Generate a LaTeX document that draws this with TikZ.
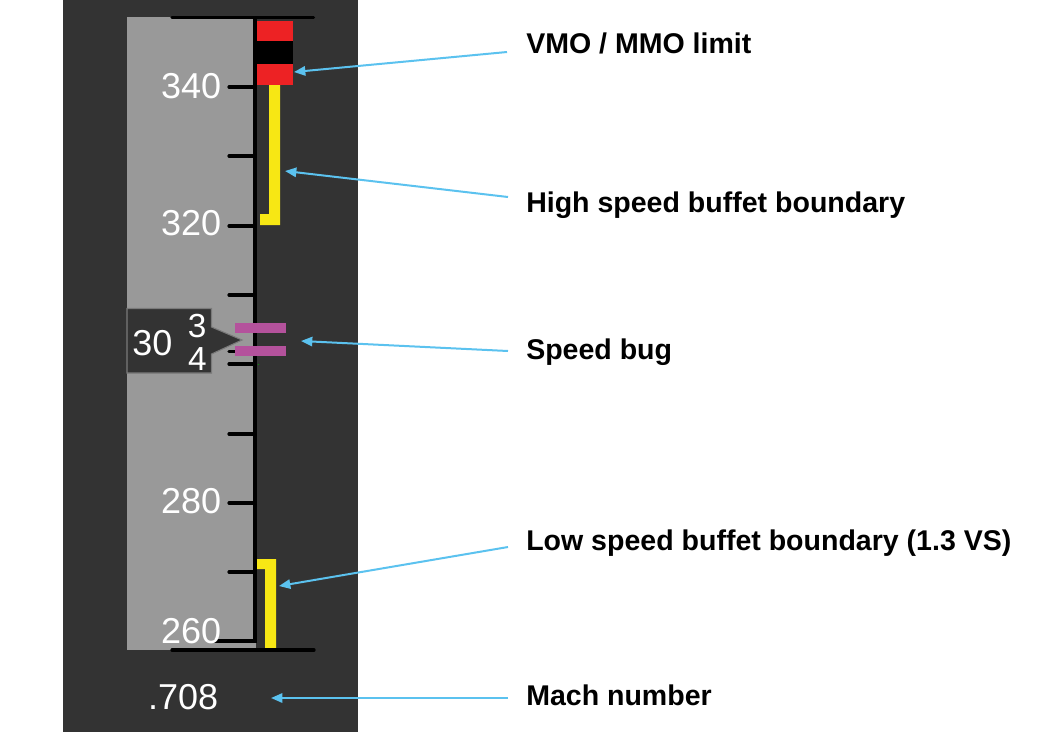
\documentclass[tikz,border=0pt]{standalone}
\usepackage{fontspec}
\setmainfont{Liberation Sans}
\usetikzlibrary{arrows.meta}
\definecolor{panel}{HTML}{333333}
\definecolor{tapegray}{HTML}{999999}
\definecolor{vred}{HTML}{ED2224}
\definecolor{vyel}{HTML}{F7E714}
\definecolor{bugmag}{HTML}{B4529C}
\definecolor{lblue}{HTML}{5BC2EF}
\definecolor{boxedge}{HTML}{7A7A7A}
\begin{document}
\begin{tikzpicture}[x=0.75pt,y=-0.75pt,
  tapetick/.style={line width=2.4pt,line cap=round},
  tapenum/.style={text=white,inner sep=0pt,anchor=base east,font=\fontsize{27}{27}\selectfont},
  drumdigit/.style={text=white,inner sep=0pt,anchor=base,font=\fontsize{25}{25}\selectfont},
  lbltext/.style={inner sep=0pt,anchor=base west,font=\fontsize{21.4}{24}\selectfont\bfseries},
  lblarrow/.style={draw=lblue,line width=1.5pt,-{Triangle[length=8.5pt,width=7pt]}}]
\useasboundingbox (0,0) rectangle (1037,754);
% panel and tape
\fill[panel] (63,0) rectangle (358,732);
\fill[tapegray] (127,17) rectangle (256,650);
% VMO / MMO barber
\fill[vred] (257,21) rectangle (293,41);
\fill[black] (257,41) rectangle (293,64);
\fill[vred] (257,64) rectangle (293,85);
% high speed buffet
\fill[vyel] (269,85) -- (280,85) -- (280,225) -- (260,225) -- (260,214) -- (269,214) -- cycle;
% low speed buffet
\fill[vyel] (257,559) -- (276,559) -- (276,648) -- (265,648) -- (265,569) -- (257,569) -- cycle;
% scale line and ticks
\draw[line width=3pt] (255,17) -- (255,643);
\foreach \yy in {87,156,226,295,364,434,503,572}
  \draw[tapetick] (229,\yy) -- (255,\yy);
\draw[tapetick] (215,641) -- (255,641);
\draw[tapetick] (229,351.5) -- (240,351.5);
\draw[tapetick] (172,17.5) -- (313.5,17.5);
\draw[tapetick] (172,650) -- (314,650);
\fill[green!60!black] (257.5,363.5) rectangle (259,365);
% tape numbers
\node[tapenum] (n340) at (221.5,98) {340};
\node[tapenum] (n320) at (221.5,235) {320};
\node[tapenum] (n280) at (221.5,513) {280};
\node[tapenum] (n260) at (221.5,643) {260};
% speed readout box
\draw[fill=panel,draw=boxedge,line width=0.8pt] (127,308.5) -- (211.5,308.5) -- (211.5,327) -- (242,340) -- (211.5,354) -- (211.5,373) -- (127,373) -- cycle;
\node[text=white,inner sep=0pt,anchor=base,font=\fontsize{27}{27}\selectfont] (spd) at (152.5,355) {30};
\node[drumdigit] (dgtop) at (197.2,337.3) {3};
\node[drumdigit] (dgbot) at (197.5,370) {4};
% speed bug
\fill[bugmag] (235,323) rectangle (286,333);
\fill[bugmag] (235,346) rectangle (286,356);
% mach
\node[tapenum] (mach) at (218.5,709) {.708};
% labels
\node[lbltext] (lvmo) at (526,53) {VMO / MMO limit};
\node[lbltext] (lhigh) at (526,212) {High speed buffet boundary};
\node[lbltext] (lbug) at (526,359) {Speed bug};
\node[lbltext] (llow) at (526,550) {Low speed buffet boundary (1.3 VS)};
\node[lbltext] (lmach) at (526,705) {Mach number};
% arrow coordinates
\coordinate (s1) at (507,52);  \coordinate (t1) at (294,72);
\coordinate (s2) at (508,197); \coordinate (t2) at (285,171);
\coordinate (s3) at (508,351); \coordinate (t3) at (301,341);
\coordinate (s4) at (508,547); \coordinate (t4) at (279,586);
\coordinate (s5) at (508,698); \coordinate (t5) at (271,698);
\draw[lblarrow] (s1) -- (t1);
\draw[lblarrow] (s2) -- (t2);
\draw[lblarrow] (s3) -- (t3);
\draw[lblarrow] (s4) -- (t4);
\draw[lblarrow] (s5) -- (t5);
\end{tikzpicture}
\end{document}
